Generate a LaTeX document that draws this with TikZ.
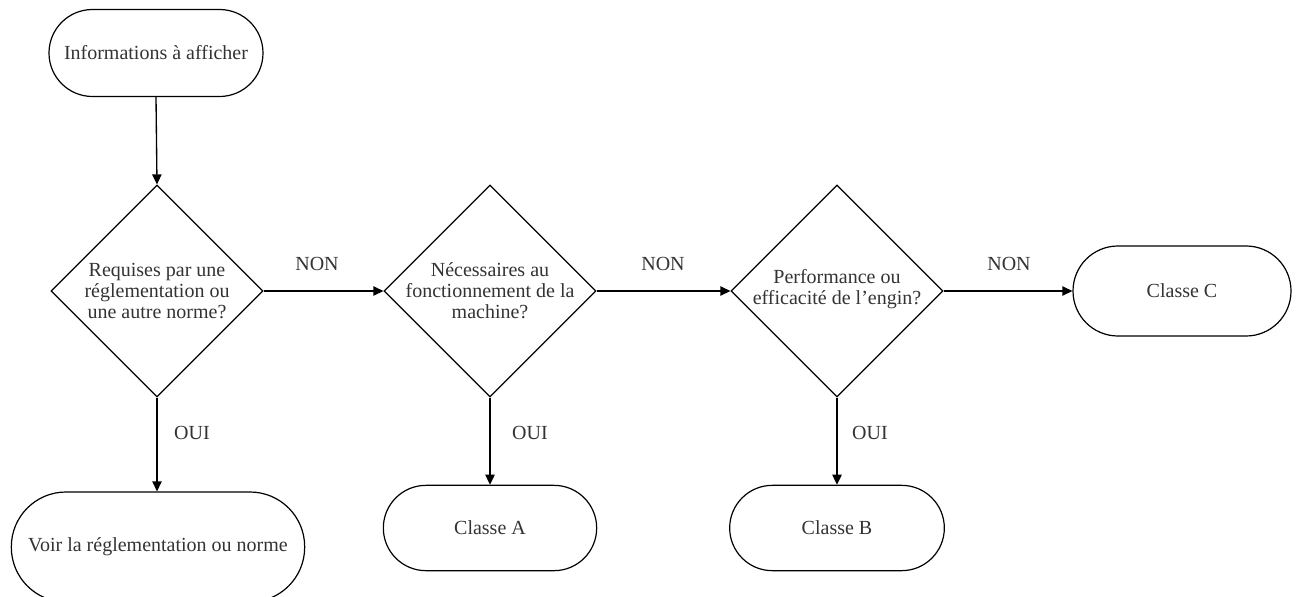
\documentclass[tikz,border=0pt]{standalone}
\usepackage{fontspec}
\setmainfont{Liberation Serif}
\usetikzlibrary{shapes.geometric,arrows.meta}
\definecolor{txt}{HTML}{333333}
\begin{document}
\begin{tikzpicture}[x=0.75pt,y=-0.75pt,
  every node/.style={font=\fontsize{15pt}{15.75pt}\selectfont, text=txt},
  term/.style={draw=black, line width=0.9pt, rounded corners=#1, inner sep=0pt},
  dec/.style={draw=black, line width=0.9pt, diamond, aspect=1, minimum width=159pt, minimum height=159pt, inner sep=0pt},
  conn/.style={draw=black, line width=1pt, -{Triangle[length=7.5pt,width=7pt]}},
  lbl/.style={inner sep=0pt}
]
\useasboundingbox (0,0) rectangle (1298,596);
\node[term=32.6pt, minimum width=160.5pt, minimum height=65.25pt] (start) at (156,53) {Informations à afficher};
\node[dec] (d1) at (157,291) {};
\node[dec] (d2) at (490,291) {};
\node[dec] (d3) at (837,291) {};
\node[align=center] (t1) at (157,291) {Requises par une\\réglementation ou\\une autre norme?};
\node[align=center] (t2) at (490,291) {Nécessaires au\\fonctionnement de la\\machine?};
\node[align=center] (t3) at (837,289) {Performance ou\\efficacité de l’engin?};
\node[term=33.7pt, minimum width=163.5pt, minimum height=67.5pt] (cC) at (1182,291) {Classe C};
\node[term=32pt, minimum width=160pt, minimum height=64pt] (cA) at (490,528) {Classe A};
\node[term=32pt, minimum width=161pt, minimum height=64pt] (cB) at (837,528) {Classe B};
\node[term=41pt, minimum width=220pt, minimum height=82.5pt] (voir) at (158,547) {Voir la réglementation ou norme};
\draw[conn] (start.south) -- (d1.north);
\draw[conn] (d1.east) -- (d2.west);
\draw[conn] (d2.east) -- (d3.west);
\draw[conn] (d3.east) -- (cC.west);
\draw[conn] (d1.south) -- (d1.south |- voir.north);
\draw[conn] (d2.south) -- (cA.north);
\draw[conn] (d3.south) -- (cB.north);
\node[lbl] (n1) at (317,264) {NON};
\node[lbl] (n2) at (663,264) {NON};
\node[lbl] (n3) at (1009,264) {NON};
\node[lbl] (o1) at (192,433) {OUI};
\node[lbl] (o2) at (530,433) {OUI};
\node[lbl] (o3) at (870,433) {OUI};
\end{tikzpicture}
\end{document}
